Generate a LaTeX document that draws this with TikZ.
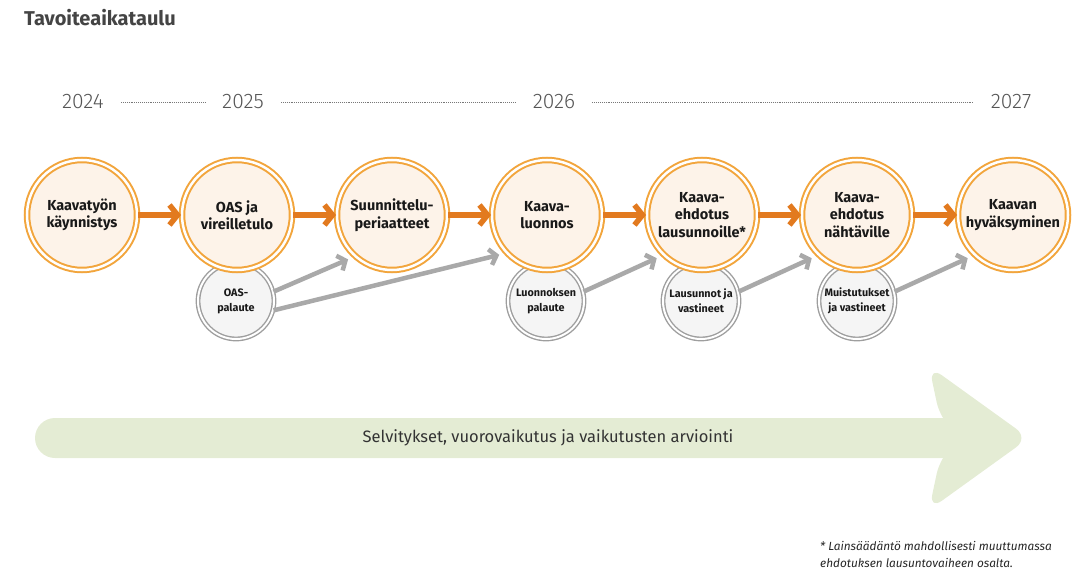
\documentclass[tikz,border=0pt]{standalone}
\usepackage{fontspec}
\setmainfont{Fira Sans}
\newfontfamily\yearfont{Fira Sans Light}
\usetikzlibrary{arrows.meta}
\definecolor{ringorange}{HTML}{F2A53C}
\definecolor{fillorange}{HTML}{FDF3E9}
\definecolor{arroworange}{HTML}{E27A1F}
\definecolor{ringgray}{HTML}{9E9E9E}
\definecolor{fillgray}{HTML}{F5F5F5}
\definecolor{arrowgray}{HTML}{A9A9A9}
\definecolor{bandgreen}{HTML}{E4ECD4}
\definecolor{yeargray}{HTML}{555555}
\definecolor{titlegray}{HTML}{444444}
\begin{document}
\begin{tikzpicture}[x=1pt, y=-1pt,
  phase/.style={circle, draw=ringorange, line width=2pt, double=white, double distance=2.5pt,
    fill=fillorange, minimum size=110pt, inner sep=0pt, align=center, text=black!90,
    font=\bfseries\fontsize{14.5}{17.5}\selectfont},
  feedback/.style={circle, draw=ringgray, line width=1.4pt, double=white, double distance=2pt,
    fill=fillgray, minimum size=76pt, inner sep=0pt, align=center, text=black!90,
    font=\bfseries\fontsize{10.8}{15}\selectfont},
  year/.style={inner sep=0pt, text=yeargray, font=\yearfont\fontsize{21}{24}\selectfont},
  yeardots/.style={draw=yeargray!80, line width=0.9pt, dash pattern=on 0.8pt off 1.1pt, shorten <=17pt, shorten >=17pt},
  nextstep/.style={draw=arroworange, line width=5.5pt, -{Straight Barb[length=8pt,width=20pt]}},
  feedto/.style={draw=arrowgray, line width=4.5pt, -{Straight Barb[length=6.5pt,width=16pt]}, shorten >=7pt}
]
\useasboundingbox (0,0) rectangle (1074,575);

\node[anchor=base west, inner sep=0pt, text=titlegray, font=\bfseries\fontsize{20}{22}\selectfont] (title) at (24,26) {Tavoiteaikataulu};

% vuodet
\node[year] (y2024) at (83,102) {2024};
\node[year] (y2025) at (243,102) {2025};
\node[year] (y2026) at (554,102) {2026};
\node[year] (y2027) at (1011,102) {2027};
\draw[yeardots] (y2024) -- (y2025);
\draw[yeardots] (y2025) -- (y2026);
\draw[yeardots] (y2026) -- (y2027);

% palautteet
\node[feedback] (oaspal) at (236,301) {OAS-\\palaute};
\node[feedback] (luopal) at (546,301) {Luonnoksen\\palaute};
\node[feedback] (lauvas) at (701,301) {Lausunnot ja\\vastineet};
\node[feedback] (muivas) at (857,301) {Muistutukset\\ja vastineet};

% vaiheet
\node[phase] (start) at (82,215) {Kaavatyön\\käynnistys};
\node[phase] (oas) at (237,215) {OAS ja\\vireilletulo};
\node[phase] (periaat) at (392,215) {Suunnittelu-\\periaatteet};
\node[phase] (luonnos) at (547,215) {Kaava-\\luonnos};
\node[phase] (ehdlaus) at (702,215) {Kaava-\\ehdotus\\lausunnoille*};
\node[phase] (ehdnaht) at (857,215) {Kaava-\\ehdotus\\nähtäville};
\node[phase] (hyvaks) at (1013,215) {Kaavan\\hyväksyminen};

\draw[nextstep] (start) -- (oas);
\draw[nextstep] (oas) -- (periaat);
\draw[nextstep] (periaat) -- (luonnos);
\draw[nextstep] (luonnos) -- (ehdlaus);
\draw[nextstep] (ehdlaus) -- (ehdnaht);
\draw[nextstep] (ehdnaht) -- (hyvaks);

\draw[feedto] (oaspal.14) -- (periaat.228);
\draw[feedto] (oaspal.-14) -- (luonnos.223);
\draw[feedto] (luopal.14) -- (ehdlaus.226);
\draw[feedto] (lauvas.14) -- (ehdnaht.226);
\draw[feedto] (muivas.14) -- (hyvaks.226);

% vihreä nuoli
\fill[bandgreen, rounded corners=20pt] (35,418) rectangle (990,458);
\fill[bandgreen, rounded corners=16pt] (960,438) -- (940,418) -- (929,366) -- (1029,438) -- (929,510) -- (940,458) -- cycle;
\node[text=black!80, font=\fontsize{16.5}{19}\selectfont] (band) at (548,438) {Selvitykset, vuorovaikutus ja vaikutusten arviointi};

\node[anchor=north west, inner sep=0pt, align=left, text=black!85, font=\itshape\fontsize{11.8}{17}\selectfont] (note) at (820,541) {* Lainsäädäntö mahdollisesti muuttumassa\\ehdotuksen lausuntovaiheen osalta.};
\end{tikzpicture}
\end{document}
